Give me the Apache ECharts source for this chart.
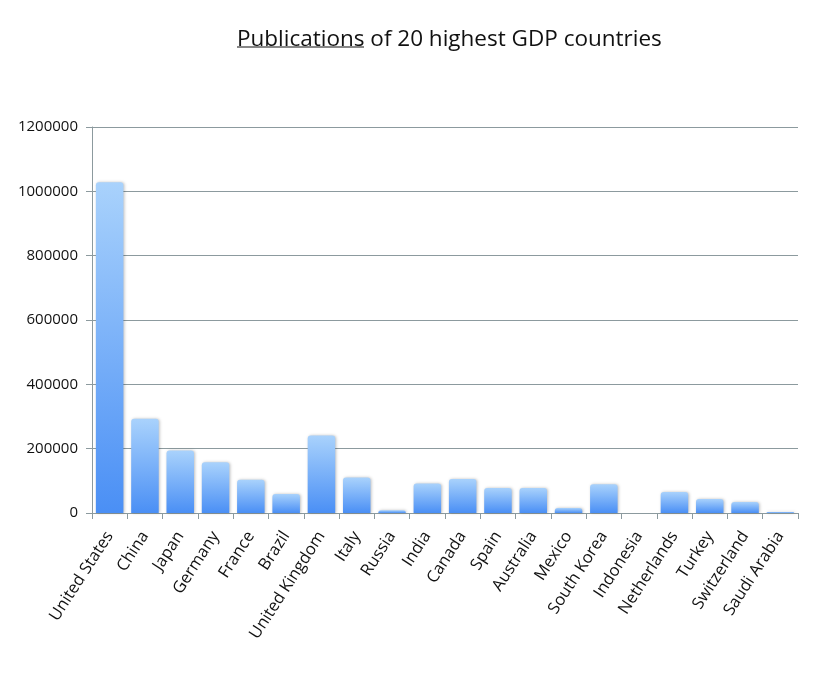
<!DOCTYPE html>
<html><head><meta charset="utf-8">
<script src="https://cdn.jsdelivr.net/npm/echarts@6/dist/echarts.min.js"></script>
<style>html,body{margin:0;padding:0;background:#fff}#c{width:816px;height:679px}</style>
</head><body><div id="c"></div>
<script>
const categories = ["United States","China","Japan","Germany","France","Brazil","United Kingdom","Italy","Russia","India","Canada","Spain","Australia","Mexico","South Korea","Indonesia","Netherlands","Turkey","Switzerland","Saudi Arabia"];
const publications = [1028000,292800,194000,157600,103700,59200,240800,110000,8500,91600,106000,78000,78000,15600,89600,0,65600,43700,34400,3000];
const yTicks = [0,200000,400000,600000,800000,1000000,1200000];

const chart = echarts.init(document.getElementById('c'));
chart.setOption({
  animation:false,
  title:{
    text:'Publications of 20 highest GDP countries',
    left:232, top:23,
    textStyle:{fontFamily:'Open Sans', fontSize:22.5, fontWeight:'normal', color:'#111'}
  },
  graphic:[{type:'line', shape:{x1:237,y1:47,x2:364,y2:47}, style:{stroke:'#111',lineWidth:1.2}}],
  grid:{left:92,right:18,top:127,bottom:166},
  xAxis:{
    type:'category', data:categories,
    axisLine:{lineStyle:{color:'#8c9a9e',width:1}},
    axisTick:{show:true,alignWithLabel:false,length:6,lineStyle:{color:'#8c9a9e'}},
    axisLabel:{rotate:57,interval:0,fontFamily:'Open Sans',fontSize:16.5,color:'#111',margin:20}
  },
  yAxis:{
    type:'value', min:0, max:1200000, interval:200000,
    axisLine:{show:true,lineStyle:{color:'#8c9a9e'}},
    axisTick:{show:true,length:6,lineStyle:{color:'#8c9a9e'}},
    splitLine:{lineStyle:{color:'#8c9a9e',width:1}},
    axisLabel:{fontFamily:'Open Sans',fontSize:15,color:'#111',margin:14,
      formatter:v=>yTicks.includes(v)?String(v):''}
  },
  series:[{
    type:'bar', data:publications, barCategoryGap:'22%',
    itemStyle:{
      borderRadius:[3,3,0,0],
      shadowColor:'rgba(0,0,0,0.25)',shadowBlur:3,shadowOffsetX:1,shadowOffsetY:0,
      color:{type:'linear',x:0,y:0,x2:0,y2:1,colorStops:[{offset:0,color:'#a9d2fc'},{offset:1,color:'#4a8ff5'}]}
    }
  }]
});
</script></body></html>
